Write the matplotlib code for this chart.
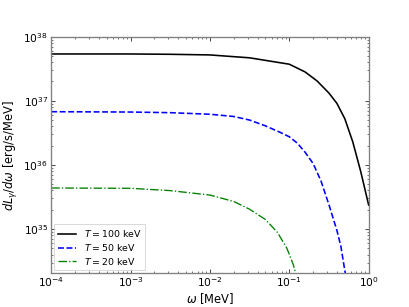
import matplotlib
matplotlib.use("Agg")
import matplotlib.pyplot as plt

# photon energy [MeV] and luminosity [erg/s/MeV]
omega_100 = [1e-4, 1e-3, 3.16e-3, 1e-2, 3.16e-2, 0.1, 0.158, 0.224, 0.316, 0.398, 0.501, 0.631, 0.794, 1.0]
lum_100 = [5.37e37, 5.37e37, 5.31e37, 5.19e37, 4.68e37, 3.72e37, 2.82e37, 2.04e37, 1.32e37, 9.12e36,
           5.25e36, 2.29e36, 7.94e35, 2.37e35]

omega_50 = [1e-4, 1e-3, 3.16e-3, 1e-2, 0.02, 0.0316, 0.05, 0.0794, 0.1, 0.126, 0.158, 0.2, 0.251,
            0.316, 0.398, 0.447, 0.525]
lum_50 = [6.76e36, 6.68e36, 6.53e36, 6.17e36, 5.69e36, 5.01e36, 4.07e36, 3.16e36, 2.75e36, 2.19e36,
          1.58e36, 1.05e36, 5.62e35, 2.40e35, 9.55e34, 5.37e34, 1.58e34]

omega_20 = [1e-4, 1e-3, 3.16e-3, 1e-2, 0.02, 0.0316, 0.05, 0.0708, 0.0933, 0.112, 0.126]
lum_20 = [4.37e35, 4.32e35, 3.98e35, 3.39e35, 2.69e35, 2.04e35, 1.41e35, 8.91e34, 5.01e34, 2.82e34, 1.66e34]

labels = ["$T = 100$ keV", "$T = 50$ keV", "$T = 20$ keV"]

fig, ax = plt.subplots(figsize=(6.4, 4.8), dpi=64)

ax.loglog(omega_100, lum_100, color="k", lw=1.8, ls="-", label=labels[0])
ax.loglog(omega_50, lum_50, color="b", lw=1.8, ls="--", label=labels[1])
ax.loglog(omega_20, lum_20, color="g", lw=1.5, ls="-.", label=labels[2])

ax.set_xlim(1e-4, 1.0)
ax.set_ylim(2.05e34, 1e38)

ax.set_xlabel(r"$\omega$ [MeV]", fontsize=13, labelpad=2)
ax.set_ylabel(r"$dL_\gamma/d\omega$ [erg/s/MeV]", fontsize=13, labelpad=4)

ax.tick_params(which="both", direction="in", top=True, right=True, labelsize=12)
ax.tick_params(axis="x", pad=2.5)
ax.tick_params(which="major", length=5)
ax.tick_params(which="minor", length=2.5)
for sp in ax.spines.values():
    sp.set_color("#808080")
    sp.set_linewidth(1.5)

ax.legend(loc="lower left", fontsize=10.5, handlelength=2.0, borderaxespad=0.3,
          labelspacing=0.3, fancybox=False)

plt.savefig("out.png", dpi=64)
plt.close()
